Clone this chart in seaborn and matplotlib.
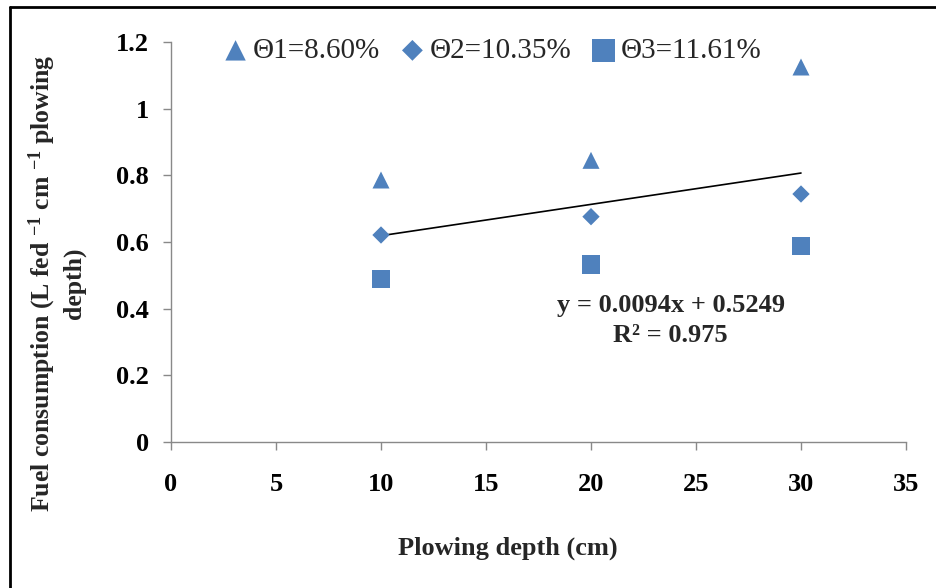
import matplotlib
matplotlib.use("Agg")
import matplotlib.pyplot as plt
import seaborn as sns
import numpy as np
import pandas as pd
from matplotlib.lines import Line2D

# ---- data ----
depth = [10, 20, 30]
theta1 = [0.786, 0.845, 1.125]
theta2 = [0.621, 0.676, 0.744]
theta3 = [0.489, 0.532, 0.588]
series_labels = ["\u03981=8.60%", "\u03982=10.35%", "\u03983=11.61%"]
slope, intercept, r2 = 0.0094, 0.5249, 0.975
trend_x = [10, 30]
xticks = [0, 5, 10, 15, 20, 25, 30, 35]
yticks = [0, 0.2, 0.4, 0.6, 0.8, 1.0, 1.2]
ytick_labels = ["0", "0.2", "0.4", "0.6", "0.8", "1", "1.2"]

sns.set_style("white")
plt.rcParams["font.family"] = ["Liberation Serif", "DejaVu Serif"]
plt.rcParams["mathtext.fontset"] = "custom"
plt.rcParams["mathtext.rm"] = "Liberation Serif"
plt.rcParams["mathtext.bf"] = "Liberation Serif:bold"
plt.rcParams["mathtext.it"] = "Liberation Serif:italic"

blue = "#4F81BD"
axis_gray = "#898989"

fig = plt.figure(figsize=(9.36, 5.88), dpi=100)
ax = fig.add_axes([171 / 936, 1 - 442 / 588, (906 - 171) / 936, (442 - 42) / 588])

trend_y = [slope * x + intercept for x in trend_x]
sns.lineplot(x=trend_x, y=trend_y, color="black", linewidth=1.2, ax=ax, legend=False)

sns.scatterplot(x=depth, y=theta1, marker="^", s=150, color=blue, edgecolor="none",
                label=series_labels[0], ax=ax, zorder=3)
sns.scatterplot(x=depth, y=theta2, marker="D", s=78, color=blue, edgecolor="none",
                label=series_labels[1], ax=ax, zorder=3)
sns.scatterplot(x=depth, y=theta3, marker="s", s=185, color=blue, edgecolor="none",
                label=series_labels[2], ax=ax, zorder=3)

ax.set_xlim(0, 35)
ax.set_ylim(0, 1.2)
ax.set_xticks(xticks)
ax.set_xticklabels([str(t) for t in xticks])
ax.set_yticks(yticks)
ax.set_yticklabels(ytick_labels)
for lab in ax.get_xticklabels() + ax.get_yticklabels():
    lab.set_fontweight("bold")
    lab.set_fontsize(19)
ax.tick_params(axis="both", direction="out", length=6, width=1, color=axis_gray,
               labelcolor="black")
ax.tick_params(axis="x", pad=16)
ax.tick_params(axis="y", pad=10)
ax.tick_params(left=True, bottom=True)
for s in ["top", "right"]:
    ax.spines[s].set_visible(False)
for s in ["left", "bottom"]:
    ax.spines[s].set_color(axis_gray)
    ax.spines[s].set_linewidth(1.0)
ax.grid(False)

ax.set_xlabel("Plowing depth (cm)", fontsize=19, fontweight="bold")
ax.xaxis.set_label_coords((508 - 171) / 735, (442 - 548) / 400)
ax.xaxis.label.set_va("center")
ax.set_ylabel("")

fig.text(56 / 936, 1 - 283 / 588,
         "Fuel consumption (L fed $^{\\mathbf{-1}}$ cm $^{\\mathbf{-1}}$ plowing\ndepth)",
         rotation=90, ha="center", va="center", fontsize=18.5, fontweight="bold",
         multialignment="center", linespacing=1.25)

ax.text(23.8, 0.364, "y = 0.0094x + 0.5249\nR\u00b2 = 0.975", ha="center", va="center",
        fontsize=19, fontweight="bold", linespacing=1.42)

leg = ax.legend(loc="center left", bbox_to_anchor=(0.068, 0.978), ncol=3, frameon=False,
                fontsize=21, handletextpad=0.1, columnspacing=0.6, handlelength=1.0,
                markerscale=1.2, borderpad=0, borderaxespad=0)

# outer border
fig.add_artist(Line2D([10 / 936, 10 / 936], [0, 1 - 7 / 588], color="black", linewidth=2,
                      transform=fig.transFigure))
fig.add_artist(Line2D([10 / 936, 1], [1 - 7 / 588, 1 - 7 / 588], color="black", linewidth=2,
                      transform=fig.transFigure))

fig.savefig("out.png", dpi=100)
